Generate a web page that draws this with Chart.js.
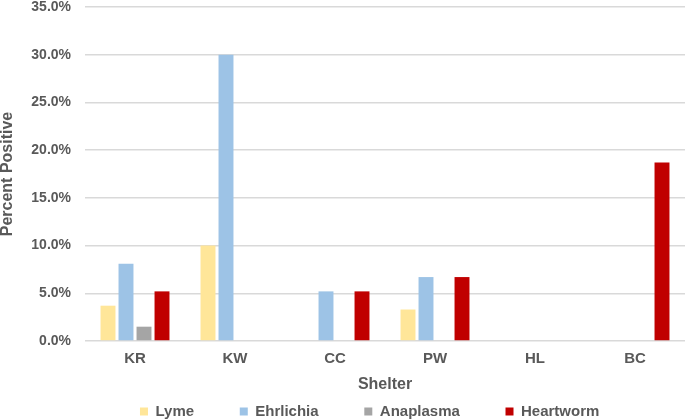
<!DOCTYPE html>
<html>
<head>
<meta charset="utf-8">
<script src="https://cdn.jsdelivr.net/npm/chart.js@4"></script>
<style>
  html, body { margin: 0; padding: 0; background: #fff; }
  #wrap { width: 685px; height: 419px; }
</style>
</head>
<body>
<div id="wrap"><canvas id="shelterChart"></canvas></div>
<script>
// Porcentaje de positivos por refugio
const shelters = ['KR', 'KW', 'CC', 'PW', 'HL', 'BC'];
const lyme = [3.7, 10.0, 0, 3.3, 0, 0];
const ehrlichia = [8.1, 30.0, 5.2, 6.7, 0, 0];
const anaplasma = [1.5, 0, 0, 0, 0, 0];
const heartworm = [5.2, 0, 5.2, 6.7, 0, 18.7];

const gray = '#595959';
const font = { family: 'Liberation Sans, Arial, sans-serif', weight: 'bold' };

const data = {
    labels: shelters,
    datasets: [
        { label: 'Lyme', data: lyme, backgroundColor: '#FFE699' },
        { label: 'Ehrlichia', data: ehrlichia, backgroundColor: '#9DC3E6' },
        { label: 'Anaplasma', data: anaplasma, backgroundColor: '#A5A5A5' },
        { label: 'Heartworm', data: heartworm, backgroundColor: '#C00000' }
    ]
};

// mueve la leyenda un poco a la derecha y hacia abajo
const legendShift = {
    id: 'legendShift',
    afterLayout(chart) {
        const lg = chart.legend;
        lg.left += 48;
        lg.right += 48;
        lg.top += 10;
        lg.bottom += 10;
    }
};

const config = {
    type: 'bar',
    data: data,
    plugins: [legendShift],
    options: {
        responsive: true,
        maintainAspectRatio: false,
        animation: false,
        categoryPercentage: 0.72,
        barPercentage: 0.83,
        layout: { padding: 0 },
        scales: {
            x: {
                grid: { display: false, drawTicks: false },
                border: { display: false },
                ticks: { color: gray, font: { ...font, size: 15, lineHeight: 1 }, padding: 10 },
                title: { display: true, text: 'Shelter', color: gray, font: { ...font, size: 16, lineHeight: 1 }, padding: { top: 1, bottom: -3 } }
            },
            y: {
                min: 0,
                max: 35,
                ticks: {
                    stepSize: 5,
                    color: gray,
                    font: { ...font, size: 14, lineHeight: 1 },
                    padding: 0,
                    callback: v => v.toFixed(1) + '%'
                },
                grid: { color: '#D9D9D9', lineWidth: 1.5, drawTicks: true, tickLength: 14, tickColor: 'rgba(0,0,0,0)' },
                border: { display: false },
                title: { display: true, text: 'Percent Positive', color: gray, font: { ...font, size: 16, lineHeight: 1 }, padding: 0 },
                afterFit: s => { s.width = 85; }
            }
        },
        plugins: {
            legend: {
                position: 'bottom',
                labels: {
                    boxWidth: 8,
                    boxHeight: 8,
                    padding: 4,
                    color: gray,
                    font: { ...font, size: 15 },
                    generateLabels: chart => Chart.defaults.plugins.legend.labels.generateLabels(chart)
                        .map(l => ({ ...l, text: l.text + '          ' }))
                }
            },
            tooltip: { enabled: false }
        }
    }
};

const ctx = document.getElementById('shelterChart').getContext('2d');
const shelterChart = new Chart(ctx, config);
</script>
</body>
</html>
